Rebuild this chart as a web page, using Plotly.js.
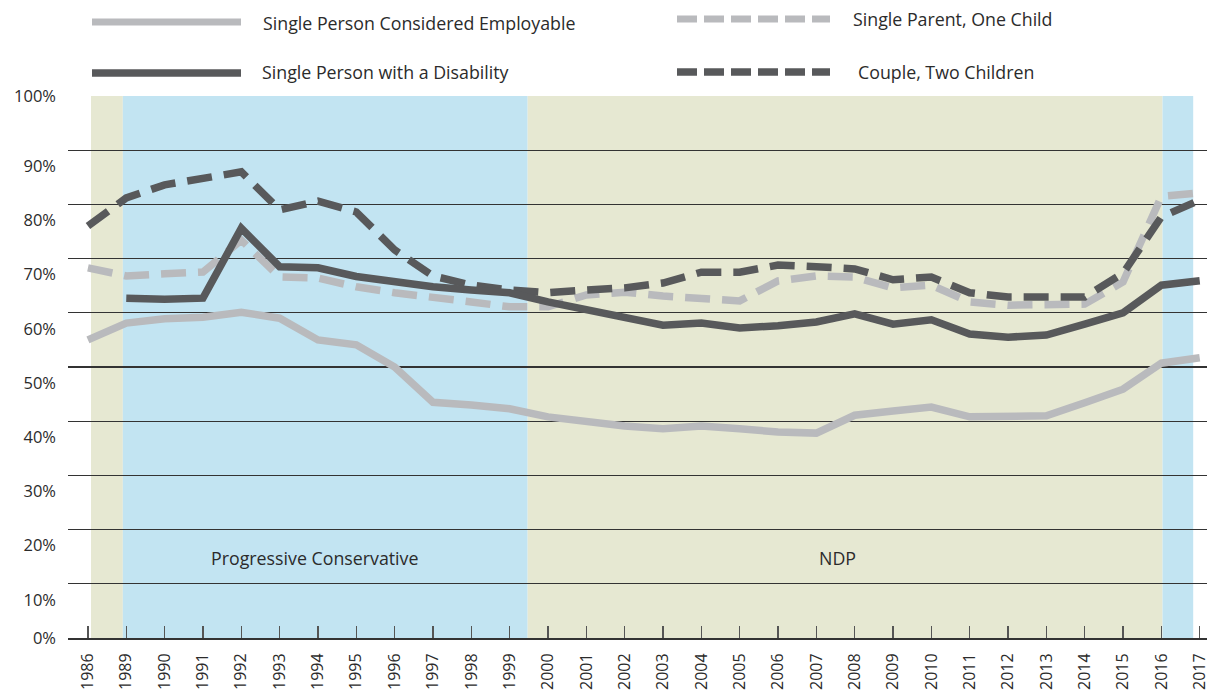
<!DOCTYPE html>
<html>
<head>
<meta charset="utf-8">
<script src="https://cdn.plot.ly/plotly-3.0.1.min.js"></script>
<style>
  html, body { margin: 0; padding: 0; background: #ffffff; }
  #chart { width: 1207px; height: 692px; }
</style>
</head>
<body>
<div id="chart"></div>
<script>
// ---- Data ----
const years = ['1986','1989','1990','1991','1992','1993','1994','1995','1996','1997','1998','1999','2000',
  '2001','2002','2003','2004','2005','2006','2007','2008','2009','2010','2011','2012','2013','2014','2015','2016','2017'];

const employable = [55.0, 58.1, 58.9, 59.2, 60.1, 59.0, 55.0, 54.1, 50.0, 43.5, 43.0, 42.3, 40.8,
  39.9, 39.1, 38.6, 39.1, 38.6, 38.0, 37.8, 41.1, 41.9, 42.6, 40.8, 40.8, 41.0, 43.4, 45.9, 50.7, 51.7];

const disability = [null, 62.7, 62.5, 62.7, 75.6, 68.5, 68.3, 66.7, 65.7, 64.8, 64.2, 63.7, 62.0,
  60.5, 59.0, 57.7, 58.1, 57.2, 57.6, 58.3, 59.8, 57.9, 58.7, 56.1, 55.5, 55.9, 57.9, 60.0, 65.1, 65.9];

const singleParent = [68.3, 66.8, 67.2, 67.5, 73.4, 66.6, 66.4, 64.8, 63.7, 62.7, 62.0, 61.1, 61.1,
  63.3, 63.8, 63.1, 62.7, 62.2, 65.9, 66.8, 66.6, 64.6, 65.1, 62.0, 61.4, 61.4, 61.6, 65.7, 81.5, 82.1];

const couple = [76.0, 81.2, 83.6, 84.9, 86.0, 79.0, 80.6, 78.6, 71.6, 66.8, 65.1, 64.2, 63.7,
  64.2, 64.6, 65.5, 67.5, 67.5, 68.8, 68.5, 68.1, 66.1, 66.6, 63.7, 62.9, 62.9, 62.9, 67.3, 77.7, 80.8];

const seriesNames = ['Single Person Considered Employable', 'Single Person with a Disability',
  'Single Parent, One Child', 'Couple, Two Children'];

const periodLabels = ['Progressive Conservative', 'NDP'];

const yTickVals = [0, 10, 20, 30, 40, 50, 60, 70, 80, 90, 100];
const yTickText = ['0%', '10%', '20%', '30%', '40%', '50%', '60%', '70%', '80%', '90%', '100%'];

// ---- Styles ----
const LIGHT = '#b9babd';
const DARK = '#58595b';
const BEIGE = '#e6e8d2';
const BLUE = '#c2e4f2';
const TEXT = '#2b2b2b';
const FONT = 'Open Sans, sans-serif';

// pixel -> paper helpers (plot area: x 68..1207, y 96..638)
const L = 68, R = 1207, T = 96, B = 638;
const px = v => (v - L) / (R - L);
const py = v => (B - v) / (B - T);

const traces = [
  {x: years, y: employable, name: seriesNames[0], mode: 'lines', line: {color: LIGHT, width: 7.5}},
  {x: years, y: singleParent, name: seriesNames[2], mode: 'lines', line: {color: LIGHT, width: 7.5, dash: '25px,12px'}},
  {x: years, y: couple, name: seriesNames[3], mode: 'lines', line: {color: DARK, width: 7.5, dash: '25px,12px'}},
  {x: years, y: disability, name: seriesNames[1], mode: 'lines', line: {color: DARK, width: 7.5}}
];

const shapes = [
  {type: 'rect', xref: 'x', yref: 'y', x0: 0.08, x1: 0.91, y0: 0, y1: 100, fillcolor: BEIGE, line: {width: 0}, layer: 'below'},
  {type: 'rect', xref: 'x', yref: 'y', x0: 0.91, x1: 11.47, y0: 0, y1: 100, fillcolor: BLUE, line: {width: 0}, layer: 'below'},
  {type: 'rect', xref: 'x', yref: 'y', x0: 11.47, x1: 28.03, y0: 0, y1: 100, fillcolor: BEIGE, line: {width: 0}, layer: 'below'},
  {type: 'rect', xref: 'x', yref: 'y', x0: 28.03, x1: 28.83, y0: 0, y1: 100, fillcolor: BLUE, line: {width: 0}, layer: 'below'},
  // legend keys
  {type: 'line', xref: 'paper', yref: 'paper', x0: px(92), x1: px(241), y0: py(22), y1: py(22), line: {color: LIGHT, width: 7}},
  {type: 'line', xref: 'paper', yref: 'paper', x0: px(92), x1: px(241), y0: py(73), y1: py(73), line: {color: DARK, width: 7.5}},
  {type: 'line', xref: 'paper', yref: 'paper', x0: px(677), x1: px(830), y0: py(19), y1: py(19), line: {color: LIGHT, width: 7, dash: '20px,7px'}},
  {type: 'line', xref: 'paper', yref: 'paper', x0: px(677), x1: px(830), y0: py(72), y1: py(72), line: {color: DARK, width: 7.5, dash: '20px,7px'}}
];

const legFont = {family: FONT, size: 17.8, color: TEXT};
const annotations = [
  {xref: 'paper', yref: 'paper', x: px(261), y: py(23), xanchor: 'left', yanchor: 'middle', text: seriesNames[0], showarrow: false, font: legFont},
  {xref: 'paper', yref: 'paper', x: px(260), y: py(72), xanchor: 'left', yanchor: 'middle', text: seriesNames[1], showarrow: false, font: legFont},
  {xref: 'paper', yref: 'paper', x: px(851), y: py(19), xanchor: 'left', yanchor: 'middle', text: seriesNames[2], showarrow: false, font: legFont},
  {xref: 'paper', yref: 'paper', x: px(856), y: py(72), xanchor: 'left', yanchor: 'middle', text: seriesNames[3], showarrow: false, font: legFont},
  {xref: 'x', yref: 'y', x: 5.92, y: 14.8, text: periodLabels[0], showarrow: false, font: legFont},
  {xref: 'x', yref: 'y', x: 19.56, y: 14.8, text: periodLabels[1], showarrow: false, font: legFont}
];

const tickFont = {family: FONT, size: 16.5, color: TEXT};

const layout = {
  width: 1207, height: 692,
  margin: {l: L, r: 0, t: T, b: 692 - B, pad: 0},
  paper_bgcolor: '#ffffff', plot_bgcolor: '#ffffff',
  showlegend: false,
  font: {family: FONT, color: TEXT, size: 15},
  xaxis: {
    type: 'category', range: [-0.52, 29.19], fixedrange: true,
    showgrid: false, zeroline: false,
    showline: true, linecolor: '#333333', linewidth: 2,
    ticks: 'inside', ticklen: 12, tickwidth: 1.5, tickcolor: '#555555',
    tickangle: -90, ticklabelstandoff: 7,
    tickfont: {family: FONT, size: 16, color: TEXT}
  },
  yaxis: {
    range: [0, 100], fixedrange: true,
    tickvals: yTickVals,
    ticktext: yTickText.map((t, i) => (i === 0 || i === yTickText.length - 1) ? t : ''),
    showgrid: true, gridcolor: '#333333', gridwidth: 1.2,
    zeroline: false, showline: false, ticks: '',
    ticklabelstandoff: 11,
    tickfont: tickFont
  },
  yaxis2: {
    overlaying: 'y', side: 'left', anchor: 'x',
    range: [0, 100], fixedrange: true,
    tickvals: yTickVals.slice(1, -1),
    ticktext: yTickText.slice(1, -1),
    showgrid: false, zeroline: false, showline: false, ticks: '',
    ticklabelstandoff: 11, ticklabelshift: 16,
    tickfont: tickFont
  },
  shapes: shapes,
  annotations: annotations
};

// dummy trace to activate yaxis2
traces.push({x: [years[0]], y: [null], yaxis: 'y2', mode: 'lines', showlegend: false, hoverinfo: 'skip'});

Plotly.newPlot('chart', traces, layout, {displayModeBar: false, staticPlot: true});
</script>
</body>
</html>
